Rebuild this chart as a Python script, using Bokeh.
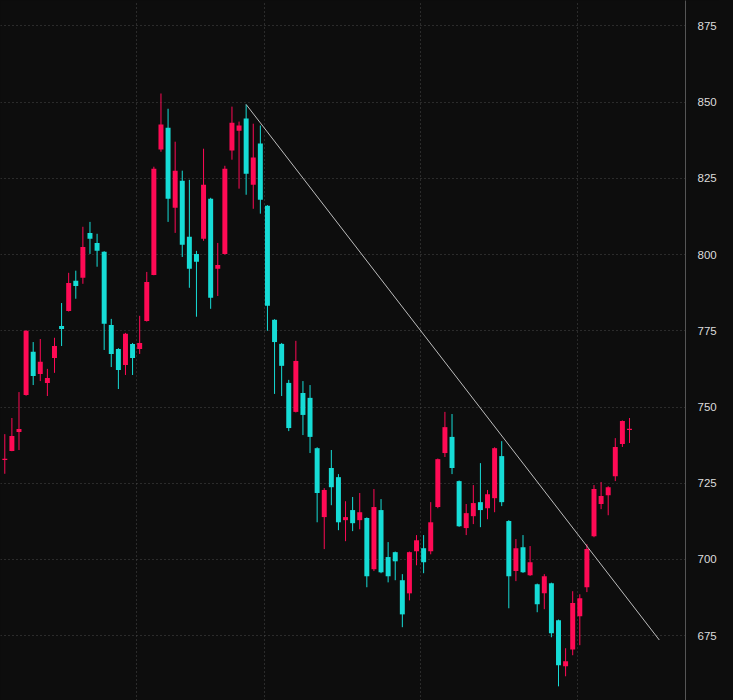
from bokeh.plotting import figure
from bokeh.models import FixedTicker, Range1d, ColumnDataSource
from bokeh.embed import file_html
from bokeh.resources import INLINE

opens = [732.6, 735.6, 741.8, 753.9, 768.1, 760.8, 757.9, 766.1, 776.6, 781.5,
         791.4, 792.4, 807.1, 803.8, 800.9, 776.9, 769.0, 763.8, 770.7, 769.0,
         778.2, 793.3, 834.4, 841.6, 815.3, 824.2, 805.8, 800.2, 805.2, 818.3,
         795.3, 800.2, 834.1, 840.6, 844.6, 822.9, 836.4, 816.0, 778.6, 770.7,
         757.9, 748.4, 754.6, 753.0, 736.5, 713.9, 730.0, 727.0, 712.9, 716.2,
         712.9, 713.6, 696.8, 716.2, 700.8, 702.4, 693.2, 688.9, 702.7, 703.7,
         702.7, 717.2, 734.9, 740.2, 725.7, 710.3, 714.2, 718.8, 716.8, 720.1,
         733.9, 712.6, 696.2, 704.0, 694.8, 691.9, 688.9, 692.2, 680.1, 665.0,
         670.5, 681.4, 690.9, 707.6, 718.2, 721.1, 727.3, 737.9, 742.5]
closes = [733.0, 740.5, 742.8, 775.0, 760.2, 764.8, 759.5, 770.0, 775.6, 790.7,
          789.7, 802.5, 805.2, 801.2, 777.3, 767.4, 762.1, 774.0, 766.1, 771.0,
          791.0, 828.1, 842.6, 818.3, 827.5, 803.2, 795.3, 797.6, 822.9, 785.8,
          796.6, 828.1, 843.2, 842.3, 826.5, 831.8, 818.0, 783.2, 771.3, 763.5,
          743.1, 765.1, 747.4, 740.2, 721.8, 722.8, 723.7, 712.2, 713.9, 711.9,
          715.5, 694.5, 717.2, 695.8, 694.5, 699.4, 682.0, 702.4, 706.3, 699.1,
          712.2, 732.9, 743.4, 730.0, 710.9, 715.2, 718.5, 716.2, 721.4, 736.5,
          718.8, 694.5, 703.7, 695.8, 699.1, 685.3, 694.5, 675.8, 665.3, 666.6,
          685.7, 687.3, 703.4, 723.1, 720.8, 723.7, 736.9, 745.4, 742.9]
highs = [741.1, 746.4, 754.9, 775.2, 771.3, 772.3, 762.5, 772.7, 784.1, 794.0,
         794.7, 809.1, 810.7, 806.8, 801.1, 778.9, 769.3, 774.3, 771.0, 779.9,
         794.3, 828.8, 852.8, 847.8, 837.0, 827.5, 824.5, 801.2, 834.7, 818.6,
         803.8, 829.1, 848.5, 843.6, 849.2, 842.9, 842.3, 816.2, 778.8, 771.0,
         758.9, 771.7, 758.5, 757.2, 736.8, 723.4, 735.9, 728.0, 719.1, 720.5,
         721.8, 713.8, 723.1, 719.8, 705.7, 702.6, 695.2, 702.6, 708.0, 708.0,
         718.8, 733.1, 748.4, 747.7, 725.9, 718.2, 724.4, 731.6, 722.8, 736.8,
         738.8, 712.9, 706.7, 708.0, 704.4, 692.1, 695.2, 692.4, 680.3, 670.9,
         689.6, 688.6, 705.0, 724.4, 725.4, 724.0, 739.8, 745.6, 746.4]
lows = [728.1, 735.5, 735.9, 753.7, 757.2, 758.5, 753.6, 761.2, 770.0, 781.3,
        785.5, 790.4, 800.2, 796.0, 768.7, 763.1, 755.9, 760.5, 760.5, 767.4,
        778.0, 793.2, 833.7, 810.7, 807.1, 799.2, 789.1, 779.6, 804.5, 782.2,
        786.4, 800.0, 831.1, 821.6, 819.6, 815.0, 813.4, 775.0, 754.3, 753.6,
        742.1, 748.2, 740.8, 734.9, 712.2, 703.4, 717.8, 709.6, 706.0, 709.3,
        709.9, 690.9, 696.2, 695.5, 692.5, 693.2, 677.8, 686.6, 698.1, 695.5,
        701.7, 716.8, 733.6, 728.0, 710.7, 708.0, 711.6, 710.6, 713.2, 715.5,
        717.5, 684.0, 692.9, 695.6, 694.6, 682.7, 683.7, 674.5, 658.4, 661.7,
        668.6, 671.9, 689.3, 707.3, 716.5, 714.5, 725.7, 736.9, 738.2]

price_ticks = [675, 700, 725, 750, 775, 800, 825, 850, 875]
period_ticks = [18.6, 36.6, 58.6, 80.7]
trend_x = [34, 92.2]
trend_y = [849.2, 673.6]

UP = "#ff0a55"
DOWN = "#16dcd6"
BG = "#0d0d0d"
GRID = "#4a4a4a"

idx = list(range(len(opens)))
colors = [UP if c >= o else DOWN for o, c in zip(opens, closes)]
tops = [max(o, c) for o, c in zip(opens, closes)]
bottoms = [min(o, c) for o, c in zip(opens, closes)]
src = ColumnDataSource(dict(x=idx, o=opens, c=closes, h=highs, l=lows,
                            top=tops, bottom=bottoms, color=colors))

p = figure(frame_width=685, frame_height=700, output_backend="svg",
           toolbar_location=None, x_axis_location=None, y_axis_location="right",
           x_range=Range1d(-0.605, 95.89), y_range=Range1d(653.76, 883.3),
           min_border=0)
p.background_fill_color = BG
p.border_fill_color = BG
p.outline_line_color = None

p.ygrid.ticker = FixedTicker(ticks=price_ticks)
p.xgrid.ticker = FixedTicker(ticks=period_ticks)
p.grid.grid_line_color = GRID
p.grid.grid_line_dash = "1 3"
p.grid.grid_line_width = 1

ax = p.yaxis[0]
ax.ticker = FixedTicker(ticks=price_ticks)
ax.axis_line_color = "#555555"
ax.major_tick_line_color = None
ax.minor_tick_line_color = None
ax.major_label_text_color = "#dcdcdc"
ax.major_label_text_font = "Liberation Sans"
ax.major_label_text_font_size = "11.5px"
ax.major_label_standoff = 6

p.segment(x0="x", y0="l", x1="x", y1="h", color="color", line_width=1, source=src)
p.vbar(x="x", width=0.70, top="top", bottom="bottom", fill_color="color",
       line_color=None, source=src)
p.line(trend_x, trend_y, line_color="#bdbdbd", line_width=1)

html = file_html(p, INLINE, title="chart")
html = html.replace("</head>", "<style>html,body{margin:0;padding:0;background:%s;overflow:hidden;}</style></head>" % BG, 1)
open("out.html", "w").write(html)
